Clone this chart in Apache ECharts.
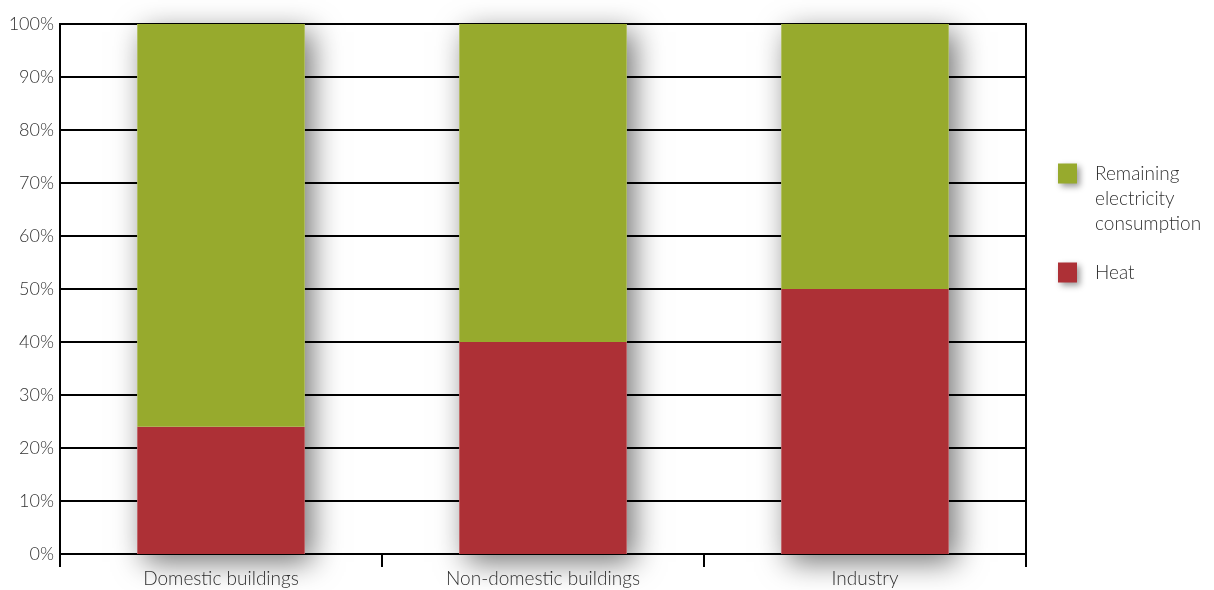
<!DOCTYPE html>
<html><head><meta charset="utf-8">
<script src="https://cdn.jsdelivr.net/npm/echarts@6/dist/echarts.min.js"></script>
<style>html,body{margin:0;padding:0;background:#fff}#c{width:1214px;height:590px}</style>
</head><body><div id="c"></div>
<script>
const categories = ['Domestic buildings', 'Non-domestic buildings', 'Industry'];
const heat = [24, 40, 50];
const remaining = [76, 60, 50];
const yTicks = [0, 10, 20, 30, 40, 50, 60, 70, 80, 90, 100];
const seriesNames = ['Remaining\nelectricity\nconsumption', 'Heat'];
const totals = heat.map((v, i) => v + remaining[i]);

const font = 'Lato, "Open Sans", sans-serif';
const green = '#97AA2D';
const red = '#AD3036';
const chart = echarts.init(document.getElementById('c'), null, {renderer: 'canvas'});
chart.setOption({
  animation: false,
  backgroundColor: '#fff',
  grid: {left: 60, right: 188, top: 24, bottom: 36, show: true, borderColor: '#000', borderWidth: 2, backgroundColor: 'transparent'},
  xAxis: {
    type: 'category', data: categories, boundaryGap: true,
    axisLine: {lineStyle: {color: '#000', width: 2}},
    axisTick: {show: true, length: 13, lineStyle: {color: '#000', width: 2}},
    axisLabel: {color: '#333', fontFamily: font, fontWeight: 300, fontSize: 19, margin: 15}
  },
  yAxis: {
    type: 'value', min: yTicks[0], max: yTicks[yTicks.length - 1], interval: 10,
    axisLine: {show: true, lineStyle: {color: '#000', width: 2}},
    axisTick: {show: false},
    splitLine: {lineStyle: {color: '#000', width: 2}},
    axisLabel: {formatter: '{value}%', color: '#333', fontFamily: font, fontWeight: 300, fontSize: 18, margin: 6}
  },
  legend: [{
    data: [{name: seriesNames[0], icon: 'rect', itemStyle: {color: green, shadowBlur: 6, shadowOffsetX: 3, shadowOffsetY: 3, shadowColor: 'rgba(0,0,0,0.4)'}}],
    formatter: name => '\n\n' + name,
    orient: 'vertical', left: 1058, top: 111, padding: 0, itemWidth: 19, itemHeight: 20, itemGap: 10,
    selectedMode: false,
    textStyle: {color: '#333', fontFamily: font, fontWeight: 300, fontSize: 19, lineHeight: 25, padding: [0, 0, 0, 13]}
  }, {
    data: [{name: seriesNames[1], icon: 'rect', itemStyle: {color: red, shadowBlur: 6, shadowOffsetX: 3, shadowOffsetY: 3, shadowColor: 'rgba(0,0,0,0.4)'}}],
    orient: 'vertical', left: 1058, top: 260, padding: 0, itemWidth: 19, itemHeight: 20,
    selectedMode: false,
    textStyle: {color: '#333', fontFamily: font, fontWeight: 300, fontSize: 19, lineHeight: 25, padding: [0, 0, 0, 13]}
  }],
  series: [
    {
      name: 'shadow', type: 'bar', data: totals, barWidth: '52%', z: 1, silent: true,
      itemStyle: {color: '#fff', shadowBlur: 28, shadowOffsetX: 7, shadowOffsetY: 8, shadowColor: 'rgba(0,0,0,0.55)'}
    },
    {
      name: seriesNames[1], type: 'bar', stack: 'total', data: heat, barWidth: '52%', barGap: '-100%', z: 3,
      itemStyle: {color: red}
    },
    {
      name: seriesNames[0], type: 'bar', stack: 'total', data: remaining, barWidth: '52%', barGap: '-100%', z: 3,
      itemStyle: {color: green}
    }
  ]
});
</script></body></html>
